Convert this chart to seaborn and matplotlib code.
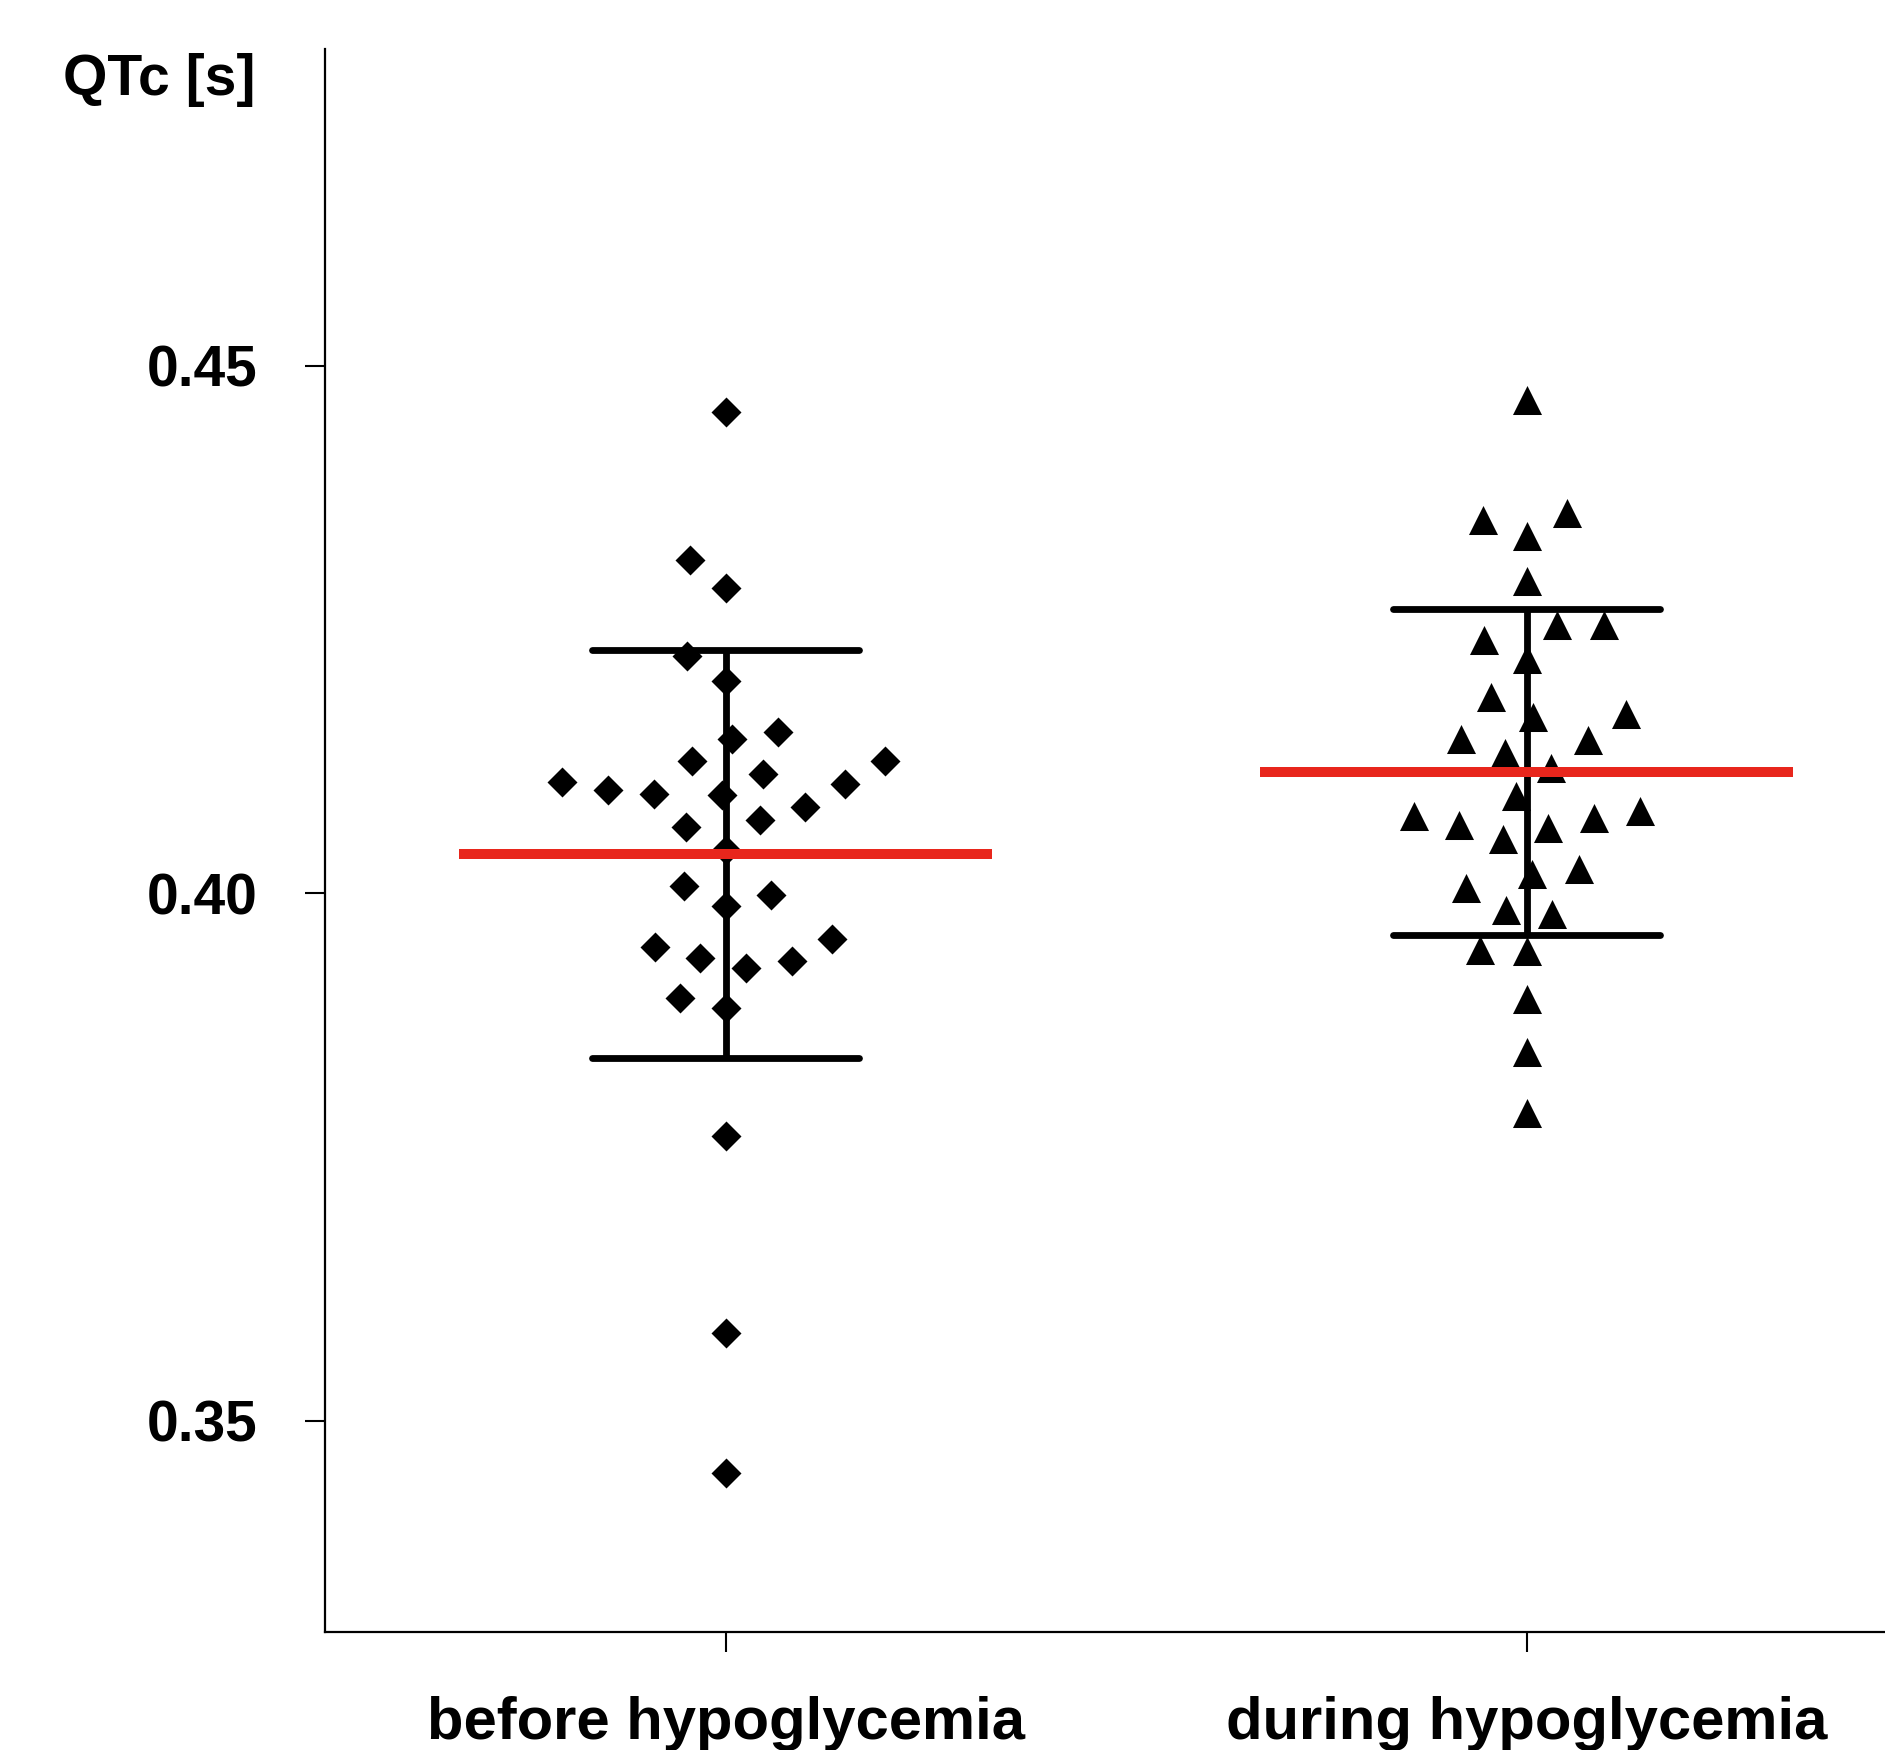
"""QTc before vs during hypoglycemia: column scatter with mean and SD."""

import numpy as np
import pandas as pd
import matplotlib
matplotlib.use("Agg")
import matplotlib.pyplot as plt
from matplotlib.markers import MarkerStyle
from matplotlib.transforms import Affine2D
import seaborn as sns

# data
conditions = ["before hypoglycemia", "during hypoglycemia"]
qtc_before = [0.4456, 0.4316, 0.4289, 0.4225, 0.4201, 0.4146, 0.4153, 0.4125,
              0.4125, 0.4113, 0.4104, 0.4094, 0.4093, 0.4098, 0.4105, 0.4082,
              0.4069, 0.4063, 0.4041, 0.3998, 0.4007, 0.3988, 0.3957, 0.3949,
              0.3936, 0.3939, 0.3929, 0.3901, 0.3891, 0.3770, 0.3583, 0.3451]
qtc_during = [0.4467, 0.4354, 0.4360, 0.4339, 0.4296, 0.4254, 0.4254, 0.4240,
              0.4222, 0.4186, 0.4170, 0.4167, 0.4145, 0.4146, 0.4133, 0.4119,
              0.4092, 0.4078, 0.4073, 0.4071, 0.4062, 0.4065, 0.4051, 0.4023,
              0.4018, 0.4005, 0.3984, 0.3980, 0.3946, 0.3945, 0.3900, 0.3850,
              0.3792]
y_ticks = [0.35, 0.40, 0.45]
y_label = "QTc [s]"

sns.set_style("ticks")
plt.rcParams["font.family"] = ["Liberation Sans", "DejaVu Sans"]
plt.rcParams["font.weight"] = "bold"
for key in ["text.color", "axes.labelcolor", "xtick.color", "ytick.color", "axes.edgecolor"]:
    plt.rcParams[key] = "black"

df = pd.DataFrame({
    "condition": [conditions[0]] * len(qtc_before) + [conditions[1]] * len(qtc_during),
    "qtc": qtc_before + qtc_during,
})

W, H = 1885, 1750
fig = plt.figure(figsize=(W / 100, H / 100), dpi=100)
ax = fig.add_axes([325 / W, (H - 1632) / H, 1602 / W, (1632 - 49) / H])

# swarm spacing follows `size`; the drawn glyph is rescaled via the marker transform
swarm_size = 32
markers = [MarkerStyle("D", transform=Affine2D().scale(21.6 / (1.414 * swarm_size))),
           MarkerStyle("^", transform=Affine2D().scale(20.9 / swarm_size))]
for cond, mk in zip(conditions, markers):
    sns.swarmplot(data=df[df["condition"] == cond], x="condition", y="qtc",
                  order=conditions, color="black", marker=mk, size=swarm_size,
                  linewidth=0, ax=ax, zorder=3)

# mean (red) and mean +/- SD (black)
stats = df.groupby("condition", sort=False)["qtc"].agg(["mean", "std"]).reindex(conditions)
for i, cond in enumerate(conditions):
    m, sd = stats.loc[cond, "mean"], stats.loc[cond, "std"]
    ax.vlines(i, m - sd, m + sd, color="black", lw=4.9, zorder=2)
    ax.hlines([m - sd, m + sd], i - 0.167, i + 0.167, color="black", lw=4.9,
              capstyle="round", zorder=2)
    ax.hlines(m, i - 0.333, i + 0.333, color="#e8261c", lw=7.2, zorder=5)

ax.set_xlim(-0.5, 1.5)
ax.set_ylim(0.33, 0.48)
ax.set_yticks(y_ticks)
ax.set_yticklabels([f"{t:.2f}" for t in y_ticks])
ax.set_xlabel("")
ax.set_ylabel("")
sns.despine(ax=ax)
for side in ["left", "bottom"]:
    ax.spines[side].set_linewidth(1.6)
ax.tick_params(axis="both", length=14.4, width=1.5)
ax.tick_params(axis="y", pad=34, labelsize=41)
ax.tick_params(axis="x", pad=32, labelsize=43)

fig.text(63 / W, 1 - 95 / H, y_label, ha="left", va="baseline",
         fontsize=41, fontweight="bold")

fig.savefig("out.png", dpi=100)
